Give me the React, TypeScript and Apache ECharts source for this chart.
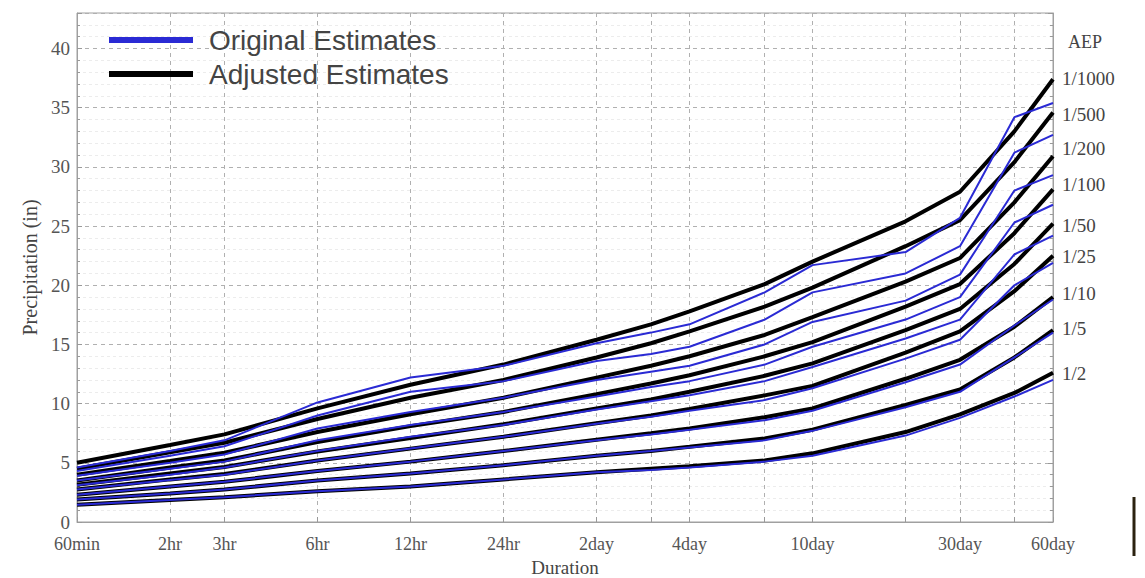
import React, { useEffect, useRef } from "react";
import * as echarts from "echarts";

// Durations (hours) and their labels
const durationsHr = [1, 2, 3, 6, 12, 24, 48, 72, 96, 168, 240, 480, 720, 1080, 1440];
const durationLabels = ["60min", "2hr", "3hr", "6hr", "12hr", "24hr", "2day", "3day", "4day", "7day", "10day", "20day", "30day", "45day", "60day"];
const labeledDurations = ["60min", "2hr", "3hr", "6hr", "12hr", "24hr", "2day", "4day", "10day", "30day", "60day"];

const aepLabels = ["1/1000", "1/500", "1/200", "1/100", "1/50", "1/25", "1/10", "1/5", "1/2"];

// Adjusted estimates (black), inches
const adj1000 = [5.0, 6.5, 7.4, 9.6, 11.6, 13.3, 15.4, 16.7, 17.8, 20.1, 22.0, 25.4, 27.9, 33.0, 37.4];
const adj500 = [4.5, 5.9, 6.7, 8.7, 10.5, 12.0, 13.9, 15.1, 16.1, 18.2, 19.8, 23.3, 25.5, 30.4, 34.6];
const adj200 = [4.0, 5.15, 5.85, 7.6, 9.1, 10.5, 12.2, 13.2, 14.0, 15.8, 17.3, 20.3, 22.3, 27.0, 30.9];
const adj100 = [3.5, 4.6, 5.2, 6.75, 8.1, 9.3, 10.8, 11.7, 12.4, 14.0, 15.2, 18.2, 20.1, 24.4, 28.1];
const adj50 = [3.15, 4.1, 4.65, 5.95, 7.1, 8.25, 9.6, 10.35, 11.0, 12.35, 13.4, 16.2, 18.0, 21.8, 25.2];
const adj25 = [2.75, 3.6, 4.05, 5.2, 6.2, 7.2, 8.35, 9.0, 9.55, 10.7, 11.5, 14.3, 16.1, 19.5, 22.5];
const adj10 = [2.3, 3.0, 3.4, 4.3, 5.1, 6.0, 6.95, 7.5, 7.9, 8.85, 9.6, 12.1, 13.7, 16.5, 19.0];
const adj5 = [1.9, 2.4, 2.75, 3.5, 4.1, 4.8, 5.6, 6.0, 6.35, 7.05, 7.8, 9.9, 11.2, 13.9, 16.2];
const adj2 = [1.45, 1.85, 2.1, 2.6, 3.0, 3.6, 4.2, 4.5, 4.7, 5.2, 5.8, 7.6, 9.1, 10.9, 12.6];

// Original estimates (blue), inches
const orig1000 = [4.6, 6.0, 6.9, 10.1, 12.2, 13.2, 15.1, 16.0, 16.7, 19.4, 21.7, 22.8, 25.7, 34.2, 35.4];
const orig500 = [4.3, 5.6, 6.4, 9.0, 11.0, 11.9, 13.6, 14.2, 14.8, 17.1, 19.4, 21.0, 23.3, 31.2, 32.7];
const orig200 = [3.9, 5.0, 5.7, 7.9, 9.3, 10.5, 12.0, 12.7, 13.2, 15.0, 16.9, 18.7, 20.9, 28.0, 29.3];
const orig100 = [3.5, 4.5, 5.1, 6.9, 8.2, 9.3, 10.6, 11.4, 11.9, 13.3, 14.8, 17.1, 19.0, 25.3, 26.8];
const orig50 = [3.1, 4.0, 4.6, 6.0, 7.2, 8.2, 9.5, 10.2, 10.7, 11.9, 13.1, 15.5, 17.1, 22.6, 24.2];
const orig25 = [2.75, 3.55, 4.0, 5.2, 6.2, 7.2, 8.3, 8.9, 9.4, 10.3, 11.3, 13.8, 15.4, 20.0, 21.9];
const orig10 = [2.3, 3.0, 3.4, 4.3, 5.1, 6.0, 6.9, 7.4, 7.8, 8.6, 9.4, 11.8, 13.3, 16.6, 18.8];
const orig5 = [1.9, 2.4, 2.75, 3.5, 4.1, 4.8, 5.6, 6.0, 6.3, 6.9, 7.7, 9.7, 11.0, 13.9, 16.0];
const orig2 = [1.45, 1.85, 2.1, 2.6, 3.0, 3.6, 4.2, 4.4, 4.6, 5.1, 5.6, 7.3, 8.8, 10.6, 12.0];

const adjustedSets = [adj1000, adj500, adj200, adj100, adj50, adj25, adj10, adj5, adj2];
const originalSets = [orig1000, orig500, orig200, orig100, orig50, orig25, orig10, orig5, orig2];

const yMin = 0;
const yMax = 43;
const yInterval = 5;

const BLUE = "#2a2ad4";
const SERIF = "'Liberation Serif', 'Times New Roman', serif";
const SANS = "'Liberation Sans', Arial, sans-serif";

const xOf = (h: number) => Math.log2(h);

export default function App() {
  const ref = useRef<HTMLDivElement>(null);

  useEffect(() => {
    if (!ref.current) return;
    const chart = echarts.init(ref.current, undefined, { renderer: "svg" });

    const allTickValues = durationsHr.map(xOf);
    const labelValues = labeledDurations.map((l) => xOf(durationsHr[durationLabels.indexOf(l)]));

    const labelFor = (v: number) => {
      for (let i = 0; i < durationsHr.length; i++) {
        if (Math.abs(xOf(durationsHr[i]) - v) < 1e-6) return durationLabels[i];
      }
      return "";
    };

    const series: any[] = [];
    adjustedSets.forEach((arr) => {
      series.push({
        name: "Adjusted Estimates",
        type: "line",
        symbol: "none",
        data: arr.map((v, i) => [xOf(durationsHr[i]), v]),
        lineStyle: { color: "#000", width: 4 },
        itemStyle: { color: "#000" },
        z: 2,
        silent: true,
      });
    });
    originalSets.forEach((arr) => {
      series.push({
        name: "Original Estimates",
        type: "line",
        symbol: "none",
        data: arr.map((v, i) => [xOf(durationsHr[i]), v]),
        lineStyle: { color: BLUE, width: 2 },
        itemStyle: { color: BLUE },
        z: 3,
        silent: true,
      });
    });

    const aepY = [80, 116, 150, 186, 227, 258, 295, 330, 375];
    const graphics: any[] = [
      {
        type: "text",
        left: 1068,
        top: 33,
        style: { text: "AEP", font: `18px ${SERIF}`, fill: "#444" },
      },
      ...aepLabels.map((t, i) => ({
        type: "text",
        left: 1062,
        top: aepY[i] - 11,
        style: { text: t, font: `19px ${SERIF}`, fill: "#444" },
      })),
      {
        type: "line",
        shape: { x1: 1134, y1: 497, x2: 1134, y2: 556 },
        style: { stroke: "#2b2210", lineWidth: 3 },
      },
    ];

    chart.setOption({
      animation: false,
      backgroundColor: "#fff",
      grid: {
        left: 77,
        right: 92,
        top: 13,
        bottom: 56,
        outerBoundsMode: "none",
        containLabel: false,
        show: true,
        borderColor: "#a0a0a0",
        borderWidth: 1,
        backgroundColor: "transparent",
      },
      legend: {
        orient: "vertical",
        left: 104,
        top: 21,
        itemWidth: 84,
        itemHeight: 6,
        itemGap: 6,
        icon: "rect",
        selectedMode: false,
        data: ["Original Estimates", "Adjusted Estimates"],
        textStyle: { fontSize: 28, fontFamily: SANS, color: "#444", padding: [0, 0, 0, 11] },
      },
      xAxis: {
        type: "value",
        min: 0,
        max: xOf(1440),
        name: "Duration",
        nameLocation: "middle",
        nameGap: 33,
        nameTextStyle: { fontFamily: SERIF, fontSize: 19, color: "#444" },
        axisLine: { show: true, lineStyle: { color: "#a0a0a0" } },
        axisTick: { show: true, inside: true, length: 5, customValues: allTickValues, lineStyle: { color: "#999" } },
        axisLabel: {
          customValues: labelValues,
          formatter: (v: number) => labelFor(v),
          fontFamily: SERIF,
          fontSize: 18,
          color: "#555",
          margin: 13,
        },
        splitLine: { show: true, lineStyle: { color: "#b0b0b0", type: [4, 4], width: 1 } },
      },
      yAxis: [
        {
          type: "value",
          min: yMin,
          max: yMax,
          interval: yInterval,
          name: "Precipitation (in)",
          nameLocation: "middle",
          nameGap: 26,
          nameTextStyle: { fontFamily: SERIF, fontSize: 20, color: "#444" },
          axisLine: { show: true, lineStyle: { color: "#a0a0a0" } },
          axisTick: { show: true, inside: true, length: 5, lineStyle: { color: "#999" } },
          minorTick: { show: true, splitNumber: 5, length: 3, lineStyle: { color: "#999" } },
          axisLabel: {
            fontFamily: SERIF,
            fontSize: 19,
            color: "#555",
            margin: 7,
            formatter: (v: number) => (v % 5 === 0 ? String(v) : ""),
          },
          splitLine: { show: true, lineStyle: { color: "#b0b0b0", type: [4, 4], width: 1 } },
          minorSplitLine: { show: true, lineStyle: { color: "#ececec", type: [3, 3], width: 1 } },
        },
        {
          type: "value",
          min: yMin,
          max: yMax,
          interval: yInterval,
          position: "right",
          axisLine: { show: true, lineStyle: { color: "#a0a0a0" } },
          axisTick: { show: true, inside: true, length: 5, lineStyle: { color: "#999" } },
          minorTick: { show: true, splitNumber: 5, length: 3, lineStyle: { color: "#999" } },
          axisLabel: { show: false },
          splitLine: { show: false },
        },
      ],
      series,
      graphic: graphics,
    });

    return () => {
      chart.dispose();
    };
  }, []);

  return (
    <div
      ref={ref}
      style={{ position: "absolute", left: 0, top: 0, width: 1145, height: 578 }}
    />
  );
}
